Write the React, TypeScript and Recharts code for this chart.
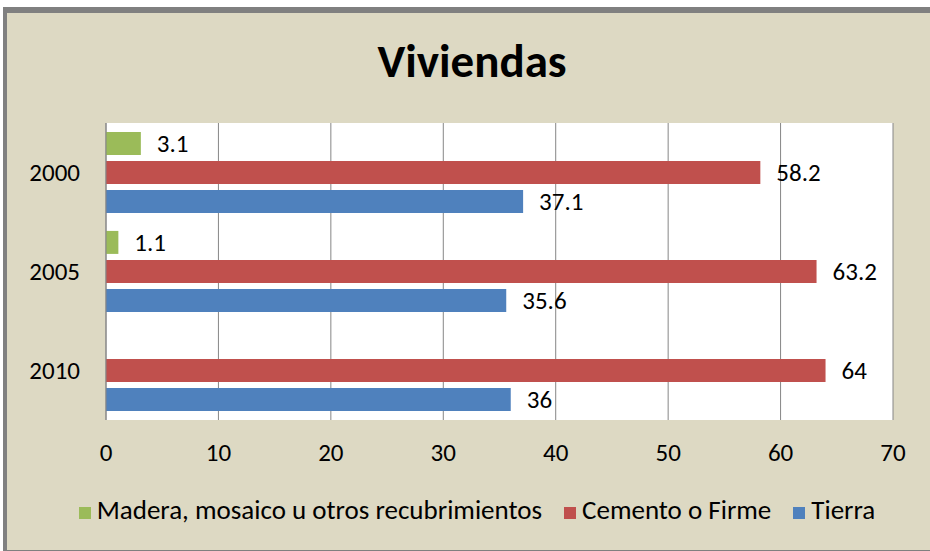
import React from "react";
import {
  BarChart,
  Bar,
  XAxis,
  YAxis,
  CartesianGrid,
  Legend,
  LabelList,
} from "recharts";

const years = ["2000", "2005", "2010"];
const madera: (number | null)[] = [3.1, 1.1, null];
const cemento = [58.2, 63.2, 64];
const tierra = [37.1, 35.6, 36];
const xTicks = [0, 10, 20, 30, 40, 50, 60, 70];
const seriesOrder = ["madera", "cemento", "tierra"];

const data = years.map((year, i) => ({
  year,
  madera: madera[i],
  cemento: cemento[i],
  tierra: tierra[i],
}));

const FONT = "Carlito, Calibri, Lato, sans-serif";
const labelStyle = { fill: "#000", fontSize: 25, fontFamily: FONT };

export default function App() {
  return (
    <div
      style={{
        position: "fixed",
        left: 0,
        top: 0,
        width: 930,
        height: 551,
        background: "#fff",
        overflow: "hidden",
        fontFamily: FONT,
      }}
    >
      <style>{`.recharts-legend-item { margin-right: 22px !important; }`}</style>
      <div
        style={{
          position: "absolute",
          left: 3,
          top: 7,
          width: 940,
          height: 537,
          background: "#DDD9C3",
          borderLeft: "4px solid #808080",
          borderTop: "6px solid #808080",
          borderBottom: "4px solid #808080",
        }}
      />
      <div
        style={{
          position: "absolute",
          left: 272,
          width: 400,
          top: 31,
          textAlign: "center",
          fontSize: 47,
          fontWeight: 700,
          lineHeight: "60px",
          color: "#000",
        }}
      >
        Viviendas
      </div>
      <div style={{ position: "absolute", left: 0, top: 0 }}>
        <BarChart
          width={930}
          height={551}
          data={data}
          layout="vertical"
          margin={{ top: 123, right: 37, bottom: 24, left: 6 }}
          barCategoryGap="9%"
          barGap={6}
        >
          <CartesianGrid horizontal={false} stroke="#868686" fill="#ffffff" />
          <XAxis
            type="number"
            domain={[0, 70]}
            ticks={xTicks}
            axisLine={false}
            tickLine={false}
            tickSize={0}
            tickMargin={23}
            height={73}
            tick={{ ...labelStyle }}
            interval={0}
          />
          <YAxis
            type="category"
            dataKey="year"
            width={100}
            axisLine={{ stroke: "#868686" }}
            tickLine={false}
            tickSize={0}
            tickMargin={26}
            tick={{ ...labelStyle }}
          />
          <Legend
            verticalAlign="bottom"
            iconType="square"
            iconSize={12}
            itemSorter={(item: any) => seriesOrder.indexOf(item.dataKey)}
            wrapperStyle={{
              left: 38,
              width: 900,
              bottom: 24,
              height: 34,
              fontSize: 27,
              fontFamily: FONT,
            }}
            formatter={(value) => (
              <span style={{ color: "#000", marginLeft: 2 }}>{value}</span>
            )}
          />
          <Bar
            dataKey="madera"
            name="Madera, mosaico u otros recubrimientos"
            fill="#9BBB59"
            isAnimationActive={false}
          >
            <LabelList dataKey="madera" position="right" offset={16} style={labelStyle} />
          </Bar>
          <Bar
            dataKey="cemento"
            name="Cemento o Firme"
            fill="#C0504D"
            isAnimationActive={false}
          >
            <LabelList dataKey="cemento" position="right" offset={16} style={labelStyle} />
          </Bar>
          <Bar
            dataKey="tierra"
            name="Tierra"
            fill="#4F81BD"
            isAnimationActive={false}
          >
            <LabelList dataKey="tierra" position="right" offset={16} style={labelStyle} />
          </Bar>
        </BarChart>
      </div>
    </div>
  );
}
